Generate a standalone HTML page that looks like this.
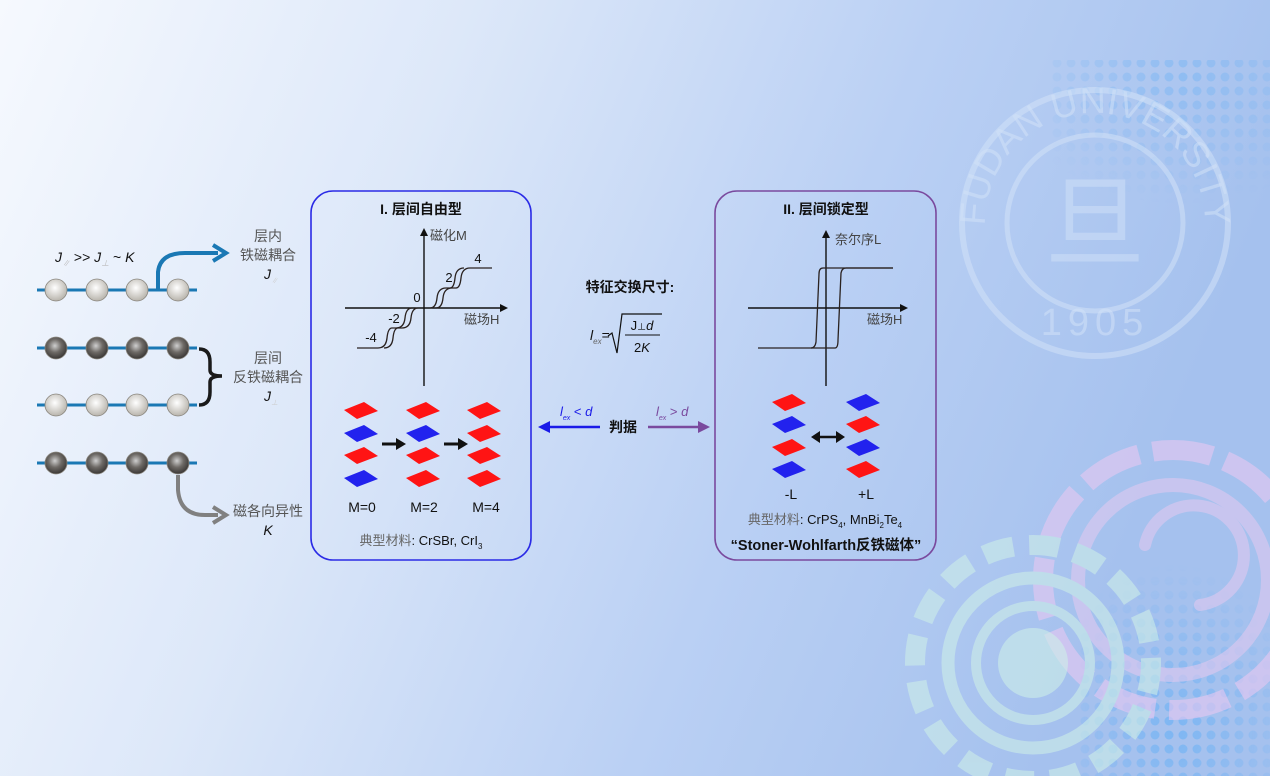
<!DOCTYPE html>
<html><head><meta charset="utf-8"><style>
html,body{margin:0;padding:0;width:1270px;height:776px;overflow:hidden}
svg{display:block}
text{font-family:"Liberation Sans","Noto Sans CJK SC",sans-serif}
</style></head><body>
<svg width="1270" height="776" viewBox="0 0 1270 776" xmlns="http://www.w3.org/2000/svg">
<defs>
<linearGradient id="bg" x1="0" y1="0" x2="1" y2="0.25">
<stop offset="0" stop-color="#f6f9fe"/><stop offset="0.35" stop-color="#dde8f9"/><stop offset="0.7" stop-color="#bad0f4"/><stop offset="1" stop-color="#a5c1ee"/></linearGradient>
<radialGradient id="ball" cx="0.45" cy="0.4" r="0.6"><stop offset="0" stop-color="#ffffff"/><stop offset="1" stop-color="#b8b4ac"/></radialGradient>
<radialGradient id="dball" cx="0.45" cy="0.4" r="0.6"><stop offset="0" stop-color="#cfcfcf"/><stop offset="0.5" stop-color="#6e6a66"/><stop offset="1" stop-color="#3a3735"/></radialGradient>
<pattern id="dots" width="14" height="14" patternUnits="userSpaceOnUse"><circle cx="7" cy="7" r="4.5" fill="#74b4f4"/></pattern>
<radialGradient id="fadeA" cx="0.6" cy="0.1" r="0.8"><stop offset="0" stop-color="#fff"/><stop offset="1" stop-color="#000"/></radialGradient>
<radialGradient id="fadeB" cx="0.5" cy="0.8" r="0.7"><stop offset="0" stop-color="#fff"/><stop offset="1" stop-color="#000"/></radialGradient>
<mask id="mA"><rect x="1050" y="60" width="220" height="160" fill="url(#fadeA)"/></mask>
<mask id="mB"><rect x="1080" y="540" width="190" height="236" fill="url(#fadeB)"/></mask>
<path id="arcTop" d="M985,223 A110,110 0 1,1 1205,223"/>
</defs>
<rect width="1270" height="776" fill="url(#bg)"/>
<rect x="1050" y="60" width="220" height="160" fill="url(#dots)" opacity="0.5" mask="url(#mA)"/>
<rect x="1080" y="540" width="190" height="236" fill="url(#dots)" opacity="0.8" mask="url(#mB)"/>
<!-- logo watermark -->
<g fill="none" stroke="#d2e2f8" opacity="0.55">
<circle cx="1095" cy="223" r="133" stroke-width="6"/>
<circle cx="1095" cy="223" r="88" stroke-width="5"/>
</g>
<text font-family="Liberation Serif,serif" font-size="36" fill="#d2e2f8" opacity="0.55"><textPath href="#arcTop" startOffset="50%" text-anchor="middle">FUDAN UNIVERSITY</textPath></text>
<text x="1095" y="335" font-family="Liberation Serif,serif" font-size="38" fill="#d2e2f8" opacity="0.55" text-anchor="middle" letter-spacing="6">1905</text>
<text x="1095" y="258" font-family="Noto Serif CJK SC,serif" font-size="100" fill="#d2e2f8" opacity="0.5" text-anchor="middle">旦</text>
<!-- circles bottom right -->
<g fill="none" opacity="0.6">
<circle cx="1173" cy="580" r="130" stroke="#e8c8f2" stroke-width="20" stroke-dasharray="60 14"/>
<circle cx="1173" cy="580" r="95" stroke="#e0c9f0" stroke-width="14"/>
<path d="M1145,545 A50,50 0 1,1 1200,605" stroke="#e0c9f0" stroke-width="12" stroke-linecap="round"/>
<circle cx="1033" cy="663" r="118" stroke="#cdeee8" stroke-width="20" stroke-dasharray="30 16"/>
<circle cx="1033" cy="663" r="85" stroke="#cdeee8" stroke-width="13"/>
<circle cx="1033" cy="663" r="57" stroke="#cdeee8" stroke-width="10"/>
</g>
<circle cx="1033" cy="663" r="35" fill="#cdeee8" opacity="0.6"/>

<!-- left chains -->
<g stroke="#1a78b4" stroke-width="3">
<line x1="37" y1="290" x2="197" y2="290"/><line x1="37" y1="348" x2="197" y2="348"/>
<line x1="37" y1="405" x2="197" y2="405"/><line x1="37" y1="463" x2="197" y2="463"/>
</g>
<g stroke="#8a867e" stroke-width="0.8">
<circle cx="56" cy="290" r="11" fill="url(#ball)"/><circle cx="97" cy="290" r="11" fill="url(#ball)"/><circle cx="137" cy="290" r="11" fill="url(#ball)"/><circle cx="178" cy="290" r="11" fill="url(#ball)"/>
<circle cx="56" cy="348" r="11" fill="url(#dball)"/><circle cx="97" cy="348" r="11" fill="url(#dball)"/><circle cx="137" cy="348" r="11" fill="url(#dball)"/><circle cx="178" cy="348" r="11" fill="url(#dball)"/>
<circle cx="56" cy="405" r="11" fill="url(#ball)"/><circle cx="97" cy="405" r="11" fill="url(#ball)"/><circle cx="137" cy="405" r="11" fill="url(#ball)"/><circle cx="178" cy="405" r="11" fill="url(#ball)"/>
<circle cx="56" cy="463" r="11" fill="url(#dball)"/><circle cx="97" cy="463" r="11" fill="url(#dball)"/><circle cx="137" cy="463" r="11" fill="url(#dball)"/><circle cx="178" cy="463" r="11" fill="url(#dball)"/>
</g>
<path d="M158,290 L158,272 Q160,253 185,253 L218,253" fill="none" stroke="#1a78b4" stroke-width="4"/>
<path d="M213,245 L226,253 L213,261" fill="none" stroke="#1a78b4" stroke-width="4"/>
<path d="M199,349 Q210,349 210,362 L210,370 Q210,376 222,376 Q210,376 210,382 L210,392 Q210,405 199,405" fill="none" stroke="#1a1a1a" stroke-width="3.5"/>
<path d="M178,475 L178,490 Q180,515 205,515 L218,515" fill="none" stroke="#808080" stroke-width="4"/>
<path d="M213,507 L226,515 L213,523" fill="none" stroke="#808080" stroke-width="4"/>
<text x="55" y="262" font-size="14" font-style="italic" fill="#111">J<tspan font-size="8" dy="4" fill="#bbb">∥</tspan><tspan dy="-4" font-style="normal"> &gt;&gt; </tspan>J<tspan font-size="8" dy="4" fill="#bbb">⊥</tspan><tspan dy="-4" font-style="normal"> ~ </tspan>K</text>
<g font-size="14" fill="#555" text-anchor="middle">
<text x="268" y="241">层内</text><text x="268" y="260">铁磁耦合</text>
<text x="268" y="363">层间</text><text x="268" y="382">反铁磁耦合</text>
<text x="268" y="516">磁各向异性</text>
</g>
<text x="264" y="279" font-size="14" font-style="italic" fill="#111">J<tspan font-size="7" dy="4" fill="#ccc">∥</tspan></text>
<text x="264" y="401" font-size="14" font-style="italic" fill="#111">J<tspan font-size="7" dy="4" fill="#ccc">⊥</tspan></text>
<text x="268" y="535" font-size="14" font-style="italic" fill="#111" text-anchor="middle">K</text>

<!-- box I -->
<rect x="311" y="191" width="220" height="369" rx="22" fill="none" stroke="#2b2be6" stroke-width="1.6"/>
<text x="421" y="214" font-size="14" font-weight="bold" text-anchor="middle" fill="#111">I. 层间自由型</text>
<g stroke="#111" stroke-width="1.4" fill="none">
<line x1="424" y1="386" x2="424" y2="234"/><line x1="345" y1="308" x2="502" y2="308"/>
</g>
<path d="M420,236 L424,228 L428,236Z M500,304 L508,308 L500,312Z" fill="#111"/>
<g stroke="#2a2220" stroke-width="1.3" fill="none">
<path d="M436,308 Q442,308 443,298 Q444,288 452,288 L456,288 Q460,288 461,278 Q462,268 470,268 L492,268"/>
<path d="M430,308 Q436,308 437,298 Q438,288 446,288 L450,288 Q454,288 455,278 Q456,268 464,268"/>
<path d="M412,308 Q406,308 405,318 Q404,328 396,328 L392,328 Q388,328 387,338 Q386,348 378,348 L357,348"/>
<path d="M418,308 Q412,308 411,318 Q410,328 402,328 L398,328 Q394,328 393,338 Q392,348 384,348"/>
</g>
<g font-size="13" fill="#111" text-anchor="middle">
<text x="478" y="263">4</text><text x="449" y="282">2</text><text x="417" y="302">0</text><text x="394" y="323">-2</text><text x="371" y="342">-4</text>
</g>
<text x="430" y="240" font-size="13" fill="#444">磁化M</text>
<text x="464" y="324" font-size="13" fill="#444">磁场H</text>
<g>
<path d="M344,410 L364,402 L378,411 L357,419Z" fill="#ff1414"/>
<path d="M344,433 L364,425 L378,434 L357,442Z" fill="#2222ee"/>
<path d="M344,455 L364,447 L378,456 L357,464Z" fill="#ff1414"/>
<path d="M344,478 L364,470 L378,479 L357,487Z" fill="#2222ee"/>
<path d="M406,410 L426,402 L440,411 L419,419Z" fill="#ff1414"/>
<path d="M406,433 L426,425 L440,434 L419,442Z" fill="#2222ee"/>
<path d="M406,455 L426,447 L440,456 L419,464Z" fill="#ff1414"/>
<path d="M406,478 L426,470 L440,479 L419,487Z" fill="#ff1414"/>
<path d="M467,410 L487,402 L501,411 L480,419Z" fill="#ff1414"/>
<path d="M467,433 L487,425 L501,434 L480,442Z" fill="#ff1414"/>
<path d="M467,455 L487,447 L501,456 L480,464Z" fill="#ff1414"/>
<path d="M467,478 L487,470 L501,479 L480,487Z" fill="#ff1414"/>
</g>
<g stroke="#111" stroke-width="3"><line x1="382" y1="444" x2="398" y2="444"/><line x1="444" y1="444" x2="460" y2="444"/></g>
<path d="M396,438 L406,444 L396,450Z M458,438 L468,444 L458,450Z" fill="#111"/>
<g font-size="14" fill="#111" text-anchor="middle"><text x="362" y="512">M=0</text><text x="424" y="512">M=2</text><text x="486" y="512">M=4</text></g>
<text x="421" y="545" font-size="13" fill="#666" text-anchor="middle">典型材料<tspan fill="#111">: CrSBr, CrI</tspan><tspan font-size="8" dy="4" fill="#111">3</tspan></text>

<!-- middle -->
<text x="630" y="292" font-size="14" font-weight="bold" text-anchor="middle" fill="#111">特征交换尺寸:</text>
<text x="590" y="340" font-size="14" font-style="italic" fill="#111">l<tspan font-size="8" dy="4" fill="#666">ex</tspan><tspan dy="-4" font-style="normal">=</tspan></text>
<path d="M608,336 L612,333 L617,353 L622,314 L662,314" fill="none" stroke="#111" stroke-width="1.2"/>
<line x1="625" y1="335" x2="660" y2="335" stroke="#111" stroke-width="1"/>
<text x="642" y="330" font-size="13" text-anchor="middle" fill="#111">J<tspan font-size="9">⊥</tspan><tspan font-style="italic">d</tspan></text>
<text x="642" y="352" font-size="13" text-anchor="middle" fill="#111">2<tspan font-style="italic">K</tspan></text>
<text x="623" y="432" font-size="14" font-weight="bold" text-anchor="middle" fill="#111">判据</text>
<line x1="600" y1="427" x2="548" y2="427" stroke="#1a1ae8" stroke-width="2.5"/>
<path d="M550,421 L538,427 L550,433Z" fill="#1a1ae8"/>
<line x1="648" y1="427" x2="700" y2="427" stroke="#7a4a9e" stroke-width="2.5"/>
<path d="M698,421 L710,427 L698,433Z" fill="#7a4a9e"/>
<text x="560" y="416" font-size="13" font-style="italic" fill="#1a1ae8">l<tspan font-size="7" dy="4">ex</tspan><tspan dy="-4" font-style="normal"> &lt; </tspan>d</text>
<text x="656" y="416" font-size="13" font-style="italic" fill="#7a4a9e">l<tspan font-size="7" dy="4">ex</tspan><tspan dy="-4" font-style="normal"> &gt; </tspan>d</text>

<!-- box II -->
<rect x="715" y="191" width="221" height="369" rx="22" fill="none" stroke="#7a4a9e" stroke-width="1.6"/>
<text x="826" y="214" font-size="14" font-weight="bold" text-anchor="middle" fill="#111">II. 层间锁定型</text>
<g stroke="#111" stroke-width="1.4" fill="none">
<line x1="826" y1="386" x2="826" y2="236"/><line x1="748" y1="308" x2="902" y2="308"/>
</g>
<path d="M822,238 L826,230 L830,238Z M900,304 L908,308 L900,312Z" fill="#111"/>
<g stroke="#2a2220" stroke-width="1.3" fill="none">
<path d="M758,348 L835,348 Q838,348 838,340 L841,273 Q842,268 846,268 L893,268"/>
<path d="M893,268 L823,268 Q819,268 819,274 L816,342 Q815,348 811,348"/>
</g>
<text x="835" y="244" font-size="13" fill="#444">奈尔序L</text>
<text x="867" y="324" font-size="13" fill="#444">磁场H</text>
<g>
<path d="M772,402 L792,394 L806,403 L785,411Z" fill="#ff1414"/>
<path d="M772,424 L792,416 L806,425 L785,433Z" fill="#2222ee"/>
<path d="M772,447 L792,439 L806,448 L785,456Z" fill="#ff1414"/>
<path d="M772,469 L792,461 L806,470 L785,478Z" fill="#2222ee"/>
<path d="M846,402 L866,394 L880,403 L859,411Z" fill="#2222ee"/>
<path d="M846,424 L866,416 L880,425 L859,433Z" fill="#ff1414"/>
<path d="M846,447 L866,439 L880,448 L859,456Z" fill="#2222ee"/>
<path d="M846,469 L866,461 L880,470 L859,478Z" fill="#ff1414"/>
</g>
<line x1="818" y1="437" x2="838" y2="437" stroke="#111" stroke-width="2.5"/>
<path d="M820,431 L811,437 L820,443Z M836,431 L845,437 L836,443Z" fill="#111"/>
<g font-size="14" fill="#111" text-anchor="middle"><text x="791" y="499">-L</text><text x="866" y="499">+L</text></g>
<text x="825" y="524" font-size="13" fill="#666" text-anchor="middle">典型材料<tspan fill="#111">: CrPS</tspan><tspan font-size="8" dy="4" fill="#111">4</tspan><tspan dy="-4" fill="#111">, MnBi</tspan><tspan font-size="8" dy="4" fill="#111">2</tspan><tspan dy="-4" fill="#111">Te</tspan><tspan font-size="8" dy="4" fill="#111">4</tspan></text>
<text x="826" y="550" font-size="14.5" font-weight="bold" text-anchor="middle" fill="#111">“Stoner-Wohlfarth反铁磁体”</text>
</svg>
</body></html>
